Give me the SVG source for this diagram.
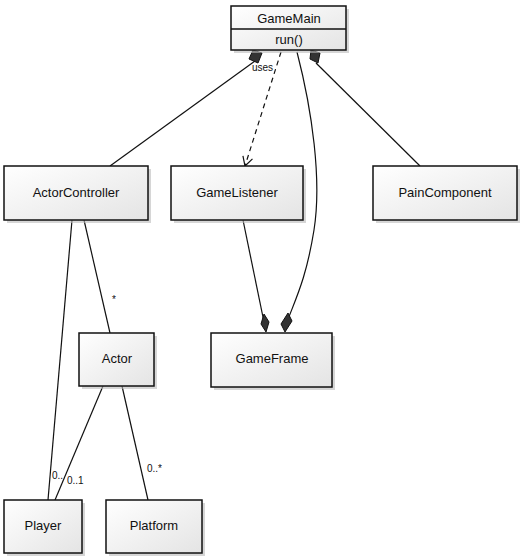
<svg xmlns="http://www.w3.org/2000/svg" width="524" height="560" viewBox="0 0 524 560">
<style>
.box{fill:url(#g);stroke:#111;stroke-width:1.5}
.sh{fill:#bbb;opacity:0.6}
.t{font-family:"Liberation Sans",Arial,sans-serif;font-size:13px;fill:#111;text-anchor:middle}
.s{font-family:"Liberation Sans",Arial,sans-serif;font-size:10px;fill:#111}
.ln{fill:none;stroke:#111;stroke-width:1.2}
.dm{fill:#333;stroke:#111;stroke-width:1}
</style>
<defs>
<linearGradient id="g" x1="0" y1="0" x2="1" y2="1">
<stop offset="0" stop-color="#ffffff"/><stop offset="1" stop-color="#e4e4e4"/>
</linearGradient>
<marker id="op" markerWidth="12" markerHeight="12" refX="10" refY="6" orient="auto" markerUnits="userSpaceOnUse">
<path d="M1,1 L10,6 L1,11" fill="none" stroke="#111" stroke-width="1.2"/>
</marker>
</defs>
<g id="connectors">
<path class="ln" d="M255,61 L110,166"/>
<path class="ln" d="M281,52 L245,166" stroke-dasharray="5,4" marker-end="url(#op)"/>
<text class="s" x="252" y="71">uses</text>
<path class="ln" d="M297,52 C312,110 322,180 314,230 C306,280 295,300 287,322"/>
<path class="ln" d="M316,63 L420,166"/>
<path class="ln" d="M243,220 L264,322"/>
<path class="ln" d="M72,220 L48,500"/>
<path class="ln" d="M84,220 L110,333"/>
<text class="s" x="112" y="303">*</text>
<path class="ln" d="M103,386 L55,500"/>
<text class="s" x="52" y="479">0..</text>
<text class="s" x="67" y="484">0..1</text>
<path class="ln" d="M122,386 L148,500"/>
<text class="s" x="147" y="472">0..*</text>
<path class="dm" d="M253,50 L262,53 L258,63 L249,59 Z"/>
<path class="dm" d="M311,50 L320,53 L318,63 L310,59 Z"/>
<path class="dm" d="M264,314 L269,322 L266,332 L261,324 Z"/>
<path class="dm" d="M288,313 L292,321 L285,332 L281,324 Z"/>
</g>
<g id="GameMain">
<rect class="sh" x="234" y="9" width="115" height="44"/>
<rect class="box" x="231" y="6" width="115" height="44"/>
<line x1="231" y1="29" x2="346" y2="29" stroke="#111" stroke-width="1.5"/>
<text class="t" x="289" y="23">GameMain</text>
<text class="t" x="289" y="44">run()</text>
</g>
<g id="ActorController">
<rect class="sh" x="7" y="169" width="144" height="54"/>
<rect class="box" x="4" y="166" width="144" height="54"/>
<text class="t" x="76" y="197">ActorController</text>
</g>
<g id="GameListener">
<rect class="sh" x="174" y="169" width="132" height="54"/>
<rect class="box" x="171" y="166" width="132" height="54"/>
<text class="t" x="237" y="197">GameListener</text>
</g>
<g id="PainComponent">
<rect class="sh" x="376" y="169" width="144" height="54"/>
<rect class="box" x="373" y="166" width="144" height="54"/>
<text class="t" x="445" y="197">PainComponent</text>
</g>
<g id="Actor">
<rect class="sh" x="82" y="336" width="75" height="53"/>
<rect class="box" x="79" y="333" width="75" height="53"/>
<text class="t" x="117" y="363">Actor</text>
</g>
<g id="GameFrame">
<rect class="sh" x="214" y="336" width="121" height="54"/>
<rect class="box" x="211" y="333" width="121" height="54"/>
<text class="t" x="272" y="363">GameFrame</text>
</g>
<g id="Player">
<rect class="sh" x="7" y="503" width="78" height="53"/>
<rect class="box" x="4" y="500" width="78" height="53"/>
<text class="t" x="43" y="530">Player</text>
</g>
<g id="Platform">
<rect class="sh" x="109" y="503" width="96" height="53"/>
<rect class="box" x="106" y="500" width="96" height="53"/>
<text class="t" x="154" y="530">Platform</text>
</g>
</svg>
